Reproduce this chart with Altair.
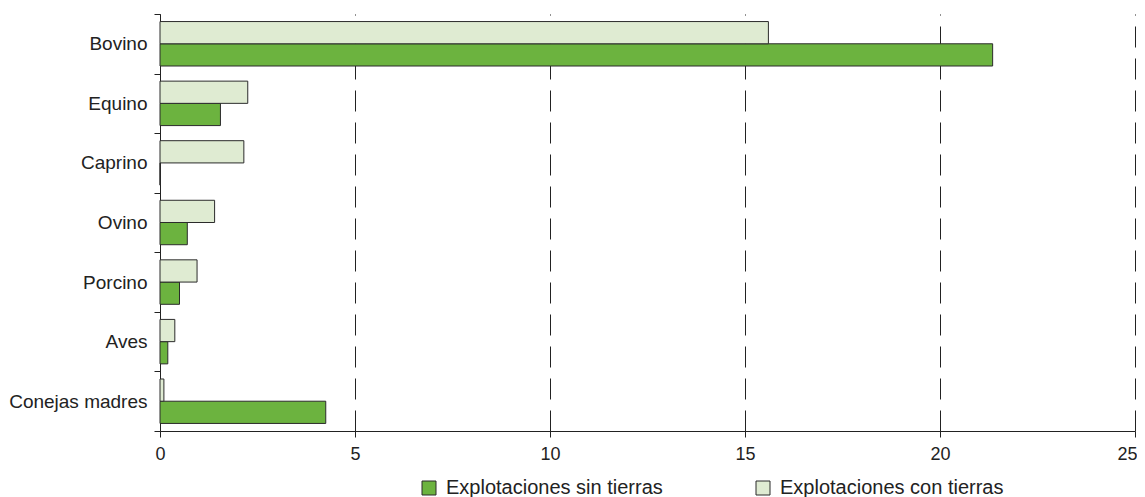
import altair as alt
import pandas as pd

categories = ["Bovino", "Equino", "Caprino", "Ovino", "Porcino", "Aves", "Conejas madres"]
sin_tierras = [21.35, 1.55, 0.0, 0.7, 0.5, 0.2, 4.25]
con_tierras = [15.6, 2.25, 2.15, 1.4, 0.95, 0.38, 0.1]
series = ["Explotaciones sin tierras", "Explotaciones con tierras"]
x_ticks = [0, 5, 10, 15, 20, 25]

rows = []
for c, s, t in zip(categories, sin_tierras, con_tierras):
    rows.append({"cat": c, "serie": series[0], "valor": s})
    rows.append({"cat": c, "serie": series[1], "valor": t})
df = pd.DataFrame(rows)

FONT = "Liberation Sans"
DARK = "#6cb33f"
LIGHT = "#dfebd2"
INK = "#222222"

chart = alt.Chart(df).mark_bar(stroke="#2b2b2b", strokeWidth=1).encode(
    y=alt.Y("cat:N", sort=categories, title=None,
            scale=alt.Scale(paddingInner=0, paddingOuter=0),
            axis=alt.Axis(tickBand="extent", labelFontSize=19, labelFont=FONT,
                          labelColor=INK, tickSize=6, labelPadding=7,
                          domainColor=INK, tickColor=INK, grid=False)),
    yOffset=alt.YOffset("serie:N", sort=[series[1], series[0]],
                        scale=alt.Scale(paddingInner=0, paddingOuter=0.34)),
    x=alt.X("valor:Q", title=None,
            scale=alt.Scale(domain=[0, 25], nice=False),
            axis=alt.Axis(values=x_ticks, labelFontSize=18, labelFont=FONT,
                          labelColor=INK, tickSize=6, labelPadding=8,
                          labelAlign={"condition": {"test": "datum.value == 25", "value": "right"}, "value": "center"},
                          labelOffset={"condition": {"test": "datum.value == 25", "value": 2}, "value": 0},
                          domainColor=INK, tickColor=INK,
                          grid=True, gridColor=INK, gridDash=[21, 11],
                          gridWidth=1, gridOpacity=1)),
    color=alt.Color("serie:N",
                    scale=alt.Scale(domain=series, range=[DARK, LIGHT]),
                    legend=alt.Legend(title=None, orient="none", direction="horizontal",
                                      legendX=259, legendY=464,
                                      symbolType="square", symbolSize=196,
                                      symbolStrokeColor="#2b2b2b", symbolStrokeWidth=1,
                                      labelFontSize=20, labelFont=FONT, labelColor=INK,
                                      labelLimit=400,
                                      symbolOffset=0, labelOffset=7,
                                      columnPadding=90)),
).properties(
    width=975,
    height=417,
    autosize=alt.AutoSizeParams(type="none"),
    padding={"left": 152, "top": 6, "right": 2, "bottom": 66},
).configure_view(stroke=None)

chart.save("out.html", embed_options={"renderer": "svg", "actions": False})
